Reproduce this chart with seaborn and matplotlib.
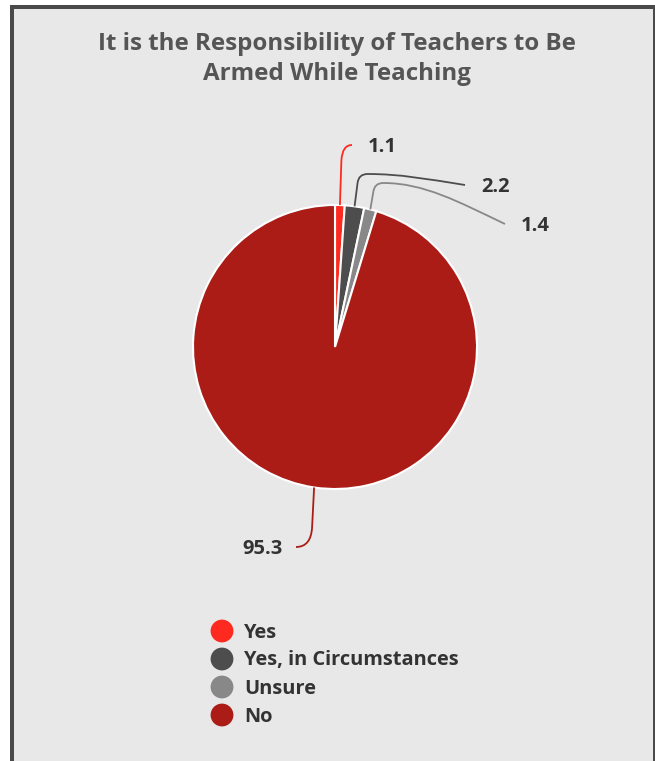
import numpy as np
import matplotlib.pyplot as plt
import seaborn as sns
from matplotlib.path import Path
from matplotlib.patches import PathPatch, Rectangle

# data
categories = ["Yes", "Yes, in Circumstances", "Unsure", "No"]
values = [1.1, 2.2, 1.4, 95.3]
value_labels = ["1.1", "2.2", "1.4", "95.3"]
colors = ["#ff2a1f", "#4d4d4d", "#888888", "#ab1c16"]
title = "It is the Responsibility of Teachers to Be\nArmed While Teaching"

sns.set_theme(style="white")
plt.rcParams["font.family"] = ["Open Sans", "DejaVu Sans"]

W, H = 655, 761
fig = plt.figure(figsize=(W / 100, H / 100), dpi=100, facecolor="white")
ax = fig.add_axes([0, 0, 1, 1])

# panel + frame (pixel coords, y pointing down)
ax.add_patch(Rectangle((10, 5), 645, 756, fc="#e8e8e8", ec="none", zorder=0))
ax.add_patch(Rectangle((10, 5), 4, 756, fc="#4a4a4a", ec="none", zorder=1))
ax.add_patch(Rectangle((10, 5), 645, 4, fc="#4a4a4a", ec="none", zorder=1))
ax.add_patch(Rectangle((653, 5), 2, 756, fc="#4a4a4a", ec="none", zorder=1))

cx, cy, r = 335, 347, 142
wedges, _ = ax.pie(values, colors=colors, center=(cx, cy), radius=r,
                   startangle=-90, counterclock=True,
                   wedgeprops=dict(edgecolor="white", linewidth=1.5))

ax.set_xlim(0, W)
ax.set_ylim(H, 0)
ax.set_aspect("equal")
ax.axis("off")


def anchor(w):
    a = np.deg2rad((w.theta1 + w.theta2) / 2)
    return w.center[0] + w.r * np.cos(a), w.center[1] + w.r * np.sin(a)


# label text positions (left edge, vertical center)
text_pos = [(368, 147), (481, 187), (521, 226), (242, 549)]
elbow = [None, 174, 183, None]

for i, w in enumerate(wedges):
    x0, y0 = anchor(w)
    tx, ty = text_pos[i]
    if i == 0:
        ex, ey = tx - 16, ty - 2
        verts = [(x0, y0), (x0 + 1.5, ey + 15), (x0 + 2.5, ey), (ex, ey)]
        codes = [Path.MOVETO, Path.LINETO, Path.CURVE3, Path.CURVE3]
    elif i in (1, 2):
        ex, ey = tx - 16, ty - 2
        yt = elbow[i]
        verts = [(x0, y0), (x0 + 3, yt + 9), (x0 + 4, yt), (x0 + 13, yt),
                 (x0 + 13 + 0.3 * (ex - x0), yt),
                 (ex - 0.35 * (ex - x0), yt + 0.45 * (ey - yt)), (ex, ey)]
        codes = [Path.MOVETO, Path.LINETO, Path.CURVE3, Path.CURVE3,
                 Path.CURVE4, Path.CURVE4, Path.CURVE4]
    else:
        ex, ey = tx + 54, ty - 2
        verts = [(x0, y0), (x0 - 2, ey - 20), (x0 - 3, ey), (ex, ey)]
        codes = [Path.MOVETO, Path.LINETO, Path.CURVE3, Path.CURVE3]
    ax.add_patch(PathPatch(Path(verts, codes), fc="none", ec=colors[i], lw=1.3, zorder=3))
    ax.text(tx, ty, value_labels[i], ha="left", va="center", fontsize=14.5,
            fontweight="bold", color="#333333")

ax.text(337, 59, title, ha="center", va="center", fontsize=17.4,
        fontweight="bold", color="#555555", linespacing=1.38)

# legend
for i, cat in enumerate(categories):
    y = 631 + 28 * i
    ax.scatter(222, y, s=270, color=colors[i], edgecolors="none", zorder=3)
    ax.text(244, y + 1.5, cat, ha="left", va="center", fontsize=14.4,
            fontweight="bold", color="#333333")

fig.savefig("out.png", dpi=100, facecolor="white")
